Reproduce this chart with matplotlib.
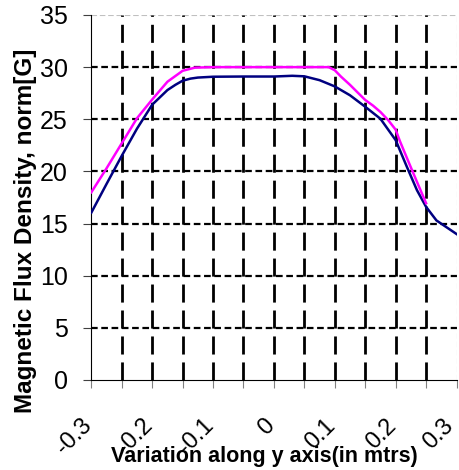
import matplotlib
matplotlib.use("Agg")
import matplotlib.pyplot as plt
import matplotlib.transforms as mtransforms

plt.rcParams['font.family'] = ['Liberation Sans', 'DejaVu Sans']
plt.rcParams['lines.scale_dashes'] = False

# Series data
x_pink = [-0.3, -0.275, -0.25, -0.225, -0.2, -0.175, -0.15, -0.13, -0.1, -0.05,
          0.0, 0.05, 0.09, 0.1, 0.11, 0.125, 0.137, 0.15, 0.163, 0.175, 0.188,
          0.2, 0.207, 0.222, 0.235, 0.25]
y_pink = [18.0, 20.3, 22.7, 25.1, 26.9, 28.6, 29.65, 29.95, 30.0, 30.0,
          30.0, 30.0, 30.0, 29.7, 29.1, 28.3, 27.6, 26.85, 26.3, 25.7, 24.9,
          24.0, 22.9, 20.8, 19.0, 16.95]

x_blue = [-0.3, -0.275, -0.25, -0.225, -0.2, -0.175, -0.162, -0.15, -0.137,
          -0.125, -0.1, -0.05, 0.0, 0.03, 0.05, 0.075, 0.1, 0.125, 0.15, 0.175,
          0.2, 0.218, 0.235, 0.25, 0.267, 0.3]
y_blue = [16.05, 18.8, 21.5, 24.1, 26.4, 27.8, 28.3, 28.7, 28.9,
          29.0, 29.08, 29.1, 29.1, 29.17, 29.12, 28.75, 28.15, 27.3, 26.2, 25.05,
          23.0, 20.5, 18.2, 16.6, 15.3, 14.0]

x_ticks = [-0.3, -0.2, -0.1, 0, 0.1, 0.2, 0.3]
x_tick_labels = ["-0.3", "-0.2", "-0.1", "0", "0.1", "0.2", "0.3"]
x_grid = [-0.25, -0.2, -0.15, -0.1, -0.05, 0, 0.05, 0.1, 0.15, 0.2, 0.25]
y_ticks = [0, 5, 10, 15, 20, 25, 30, 35]

fig = plt.figure(figsize=(4.59, 4.70), dpi=100)
ax = fig.add_axes([0.199, 0.1915, 0.7956, 0.7766])

# grid
for y in y_ticks[1:-1]:
    ax.axhline(y, color="black", lw=1.6, ls=(0, (4.8, 2.6)), zorder=1)
ax.axhline(35, color="#c0c0c0", lw=0.8, ls=(0, (4, 2)), zorder=1)
for x in x_grid:
    ax.axvline(x, color="black", lw=2.0, ls=(0, (13, 5.7)), zorder=1)
ax.axvline(0.3, color="#c0c0c0", lw=0.8, ls=(0, (4, 2)), zorder=1)

ax.plot(x_blue, y_blue, color="#000080", lw=1.8, zorder=3)
ax.plot(x_pink, y_pink, color="#ff00ff", lw=1.8, zorder=3)

ax.set_xlim(-0.3, 0.3)
ax.set_ylim(0, 35)

for s in ["top", "right"]:
    ax.spines[s].set_visible(False)
for s in ["left", "bottom"]:
    ax.spines[s].set_linewidth(0.8)

ax.set_xticks(x_ticks)
ax.set_xticks([-0.25, -0.15, -0.05, 0.05, 0.15, 0.25], minor=True)
ax.set_xticklabels(x_tick_labels, rotation=45, ha="right", va="top", fontsize=17)
ax.set_yticks(y_ticks)
ax.set_yticklabels([str(v) for v in y_ticks], fontsize=18)

ax.tick_params(axis="x", which="both", length=6, width=0.8, color="#808080",
               direction="out", pad=19)
ax.tick_params(axis="y", length=6, width=0.8, color="#404040",
               direction="out", pad=11)

# nudge rotated labels right, but keep the last one inside the figure
labels = ax.get_xticklabels()
for i, lbl in enumerate(labels):
    dx = 1 if i == len(labels) - 1 else 5
    offset = mtransforms.ScaledTranslation(dx / 100, 0, fig.dpi_scale_trans)
    lbl.set_transform(lbl.get_transform() + offset)

fig.text(0.575, 0.028, "Variation along y axis(in mtrs)", fontsize=15.5,
         fontweight="bold", ha="center", va="center")
fig.text(0.055, 0.5085, "Magnetic Flux Density, norm[G]", fontsize=17.5,
         fontweight="bold", rotation=90, ha="center", va="center")

fig.savefig("out.png", dpi=100)
